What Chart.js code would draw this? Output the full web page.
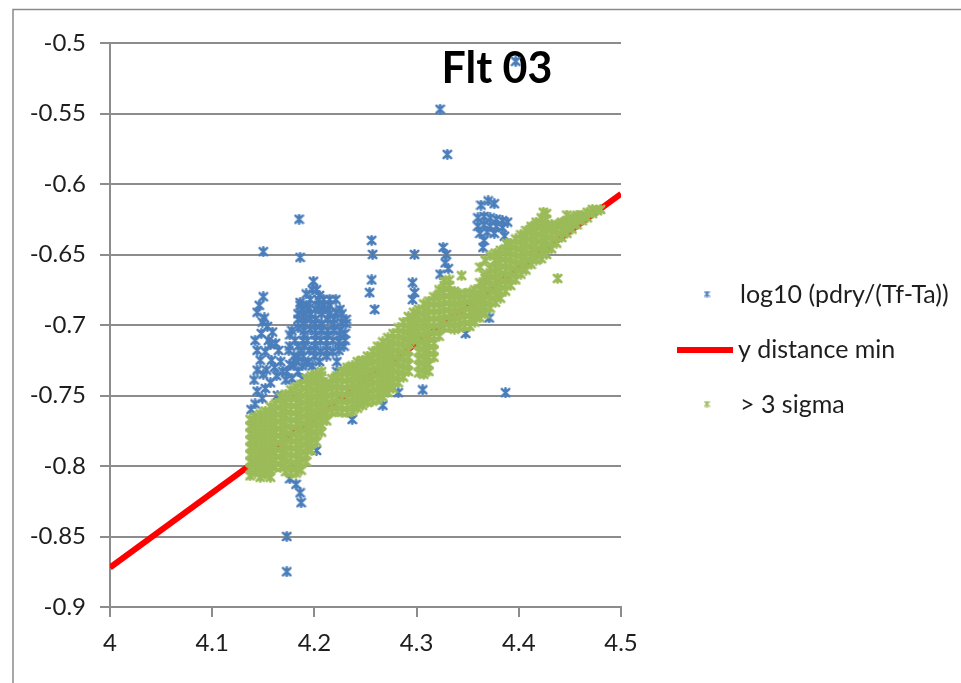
<!DOCTYPE html>
<html>
<head>
<meta charset="utf-8">
<script src="https://cdn.jsdelivr.net/npm/chart.js@4/dist/chart.umd.min.js"></script>
<style>
  html, body { margin: 0; padding: 0; background: #ffffff; }
  canvas { display: block; }
</style>
</head>
<body>
<canvas id="c" width="961" height="683"></canvas>
<script>
// Axis ticks
const xTickValues = [4, 4.1, 4.2, 4.3, 4.4, 4.5];
const yTickValues = [-0.9, -0.85, -0.8, -0.75, -0.7, -0.65, -0.6, -0.55, -0.5];

// Series names
const seriesNames = ['log10 (pdry/(Tf-Ta))', 'y distance min', '> 3 sigma'];
const chartTitle = 'Flt 03';

// Regression line end points
const fitX = [4, 4.5];
const fitY = [-0.872, -0.607];

// log10 (pdry/(Tf-Ta)) points that fall outside the 3 sigma band
const blueLeftSpike = [
  [4.150,-0.648],[4.150,-0.680],[4.146,-0.686],[4.144,-0.691],[4.151,-0.695],
  [4.154,-0.701],[4.148,-0.706],[4.155,-0.711],[4.162,-0.713],[4.165,-0.718],
  [4.152,-0.719],[4.158,-0.725],[4.161,-0.730],[4.167,-0.726],[4.163,-0.736],
  [4.157,-0.741],[4.152,-0.745],[4.144,-0.747],[4.149,-0.752],[4.142,-0.756],
  [4.138,-0.760],[4.149,-0.698],[4.157,-0.714],[4.144,-0.732],[4.150,-0.735],
  [4.144,-0.718],[4.142,-0.711],[4.159,-0.705],[4.147,-0.725],[4.169,-0.733],
  [4.153,-0.732],[4.141,-0.739],[4.164,-0.750]
];
const blueCluster = [
  [4.185,-0.625],[4.186,-0.652],[4.199,-0.669],[4.198,-0.675],[4.186,-0.684],
  [4.204,-0.682],[4.215,-0.682],[4.195,-0.688],[4.207,-0.689],[4.221,-0.691],
  [4.190,-0.694],[4.201,-0.696],[4.213,-0.696],[4.226,-0.698],[4.184,-0.702],
  [4.196,-0.703],[4.207,-0.704],[4.219,-0.704],[4.230,-0.706],[4.189,-0.711],
  [4.201,-0.711],[4.212,-0.711],[4.224,-0.712],[4.176,-0.715],[4.229,-0.715],
  [4.195,-0.718],[4.206,-0.719],[4.218,-0.719],[4.184,-0.723],[4.176,-0.728],
  [4.192,-0.727],[4.222,-0.726],[4.173,-0.733],[4.184,-0.733],[4.172,-0.739],
  [4.222,-0.733],
  [4.186,-0.686],[4.192,-0.686],[4.204,-0.686],[4.209,-0.686],[4.215,-0.686],
  [4.184,-0.692],[4.196,-0.692],[4.207,-0.692],[4.215,-0.692],[4.227,-0.692],
  [4.190,-0.699],[4.201,-0.699],[4.207,-0.699],[4.219,-0.699],[4.231,-0.699],
  [4.176,-0.707],[4.190,-0.707],[4.201,-0.707],[4.213,-0.707],[4.225,-0.707],
  [4.184,-0.715],[4.190,-0.715],[4.201,-0.715],[4.212,-0.715],[4.224,-0.715],
  [4.180,-0.722],[4.189,-0.722],[4.200,-0.722],[4.212,-0.722],
  [4.180,-0.729],[4.188,-0.729],[4.198,-0.729],[4.178,-0.738],[4.188,-0.738],
  [4.196,-0.682],[4.209,-0.682],[4.221,-0.682],
  [4.189,-0.689],[4.201,-0.689],[4.213,-0.689],[4.225,-0.689],
  [4.184,-0.696],[4.196,-0.696],[4.219,-0.696],[4.231,-0.696],
  [4.178,-0.704],[4.190,-0.704],[4.201,-0.704],[4.213,-0.704],[4.225,-0.704],
  [4.181,-0.711],[4.193,-0.711],[4.206,-0.711],[4.218,-0.711],[4.230,-0.711],
  [4.175,-0.718],[4.187,-0.718],[4.200,-0.718],[4.212,-0.718],[4.224,-0.718],
  [4.182,-0.726],[4.194,-0.726],[4.205,-0.726],
  [4.202,-0.675],[4.192,-0.678],[4.205,-0.679]
];
const blueLow = [
  [4.182,-0.813],[4.186,-0.819],[4.187,-0.826],[4.173,-0.850],[4.173,-0.875],
  [4.176,-0.809],[4.202,-0.789],[4.237,-0.767],[4.267,-0.757],[4.282,-0.748],
  [4.348,-0.706],[4.371,-0.695]
];
const blueScatter = [
  [4.256,-0.640],[4.257,-0.650],[4.256,-0.668],[4.254,-0.677],[4.259,-0.689],
  [4.298,-0.650],[4.296,-0.670],[4.298,-0.677],[4.296,-0.682],
  [4.326,-0.645],[4.329,-0.650],[4.328,-0.656],[4.331,-0.660],[4.323,-0.664],
  [4.306,-0.746],[4.387,-0.748],[4.323,-0.547],[4.330,-0.579],[4.397,-0.513]
];
const blueUpper = [
  [4.363,-0.615],[4.370,-0.612],[4.376,-0.614],[4.360,-0.624],[4.366,-0.623],
  [4.372,-0.624],[4.378,-0.625],[4.384,-0.626],[4.389,-0.627],[4.360,-0.630],
  [4.366,-0.629],[4.372,-0.630],[4.378,-0.630],[4.384,-0.631],[4.362,-0.635],
  [4.369,-0.634],[4.376,-0.635],[4.366,-0.640],[4.365,-0.645],[4.386,-0.637],
  [4.389,-0.643]
];

// > 3 sigma band, one column of y values per x
const greenColumns = [
  [4.137, [-0.807,-0.802,-0.797,-0.792,-0.787,-0.782,-0.777,-0.772,-0.767]],
  [4.142, [-0.805,-0.800,-0.795,-0.790,-0.785,-0.780,-0.775,-0.770,-0.765]],
  [4.147, [-0.808,-0.803,-0.798,-0.793,-0.788,-0.783,-0.778,-0.773,-0.768,-0.763]],
  [4.152, [-0.806,-0.801,-0.796,-0.791,-0.786,-0.781,-0.776,-0.771,-0.766,-0.761]],
  [4.157, [-0.808,-0.803,-0.798,-0.793,-0.788,-0.783,-0.778,-0.773,-0.768,-0.763,-0.758]],
  [4.162, [-0.801,-0.796,-0.791,-0.786,-0.781,-0.776,-0.771,-0.766,-0.761,-0.756]],
  [4.167, [-0.801,-0.796,-0.791,-0.786,-0.781,-0.776,-0.771,-0.766,-0.761,-0.756,-0.751]],
  [4.172, [-0.804,-0.799,-0.794,-0.789,-0.784,-0.779,-0.774,-0.769,-0.764,-0.759,-0.754,-0.749]],
  [4.177, [-0.805,-0.800,-0.795,-0.790,-0.785,-0.780,-0.775,-0.770,-0.765,-0.760,-0.755,-0.750,-0.746]],
  [4.182, [-0.805,-0.800,-0.795,-0.790,-0.785,-0.780,-0.775,-0.770,-0.765,-0.760,-0.755,-0.750,-0.744]],
  [4.187, [-0.803,-0.798,-0.793,-0.788,-0.783,-0.778,-0.773,-0.768,-0.763,-0.758,-0.753,-0.748,-0.742]],
  [4.192, [-0.797,-0.792,-0.787,-0.782,-0.777,-0.772,-0.767,-0.762,-0.757,-0.752,-0.747,-0.742,-0.738]],
  [4.197, [-0.789,-0.784,-0.779,-0.774,-0.769,-0.764,-0.759,-0.754,-0.749,-0.744,-0.739,-0.736]],
  [4.202, [-0.783,-0.778,-0.773,-0.768,-0.763,-0.758,-0.753,-0.748,-0.743,-0.738,-0.735]],
  [4.207, [-0.776,-0.771,-0.766,-0.761,-0.756,-0.751,-0.746,-0.741,-0.736,-0.733]],
  [4.212, [-0.768,-0.763,-0.758,-0.753,-0.748,-0.743,-0.741]],
  [4.217, [-0.762,-0.757,-0.752,-0.747,-0.742,-0.738]],
  [4.222, [-0.761,-0.756,-0.751,-0.746,-0.741,-0.736]],
  [4.227, [-0.762,-0.757,-0.752,-0.747,-0.742,-0.737,-0.733]],
  [4.232, [-0.762,-0.757,-0.752,-0.747,-0.742,-0.737,-0.732,-0.730]],
  [4.237, [-0.761,-0.756,-0.751,-0.746,-0.741,-0.736,-0.731,-0.729]],
  [4.242, [-0.759,-0.754,-0.749,-0.744,-0.739,-0.734,-0.729,-0.726]],
  [4.247, [-0.757,-0.752,-0.747,-0.742,-0.737,-0.732,-0.727,-0.725]],
  [4.252, [-0.755,-0.750,-0.745,-0.740,-0.735,-0.730,-0.725,-0.722]],
  [4.257, [-0.754,-0.749,-0.744,-0.739,-0.734,-0.729,-0.724,-0.719]],
  [4.262, [-0.753,-0.748,-0.743,-0.738,-0.733,-0.728,-0.723,-0.718,-0.715]],
  [4.267, [-0.751,-0.746,-0.741,-0.736,-0.731,-0.726,-0.721,-0.716,-0.712]],
  [4.272, [-0.748,-0.743,-0.738,-0.733,-0.728,-0.723,-0.718,-0.713,-0.709]],
  [4.277, [-0.745,-0.740,-0.735,-0.730,-0.725,-0.720,-0.715,-0.710,-0.706]],
  [4.282, [-0.741,-0.736,-0.731,-0.726,-0.721,-0.716,-0.711,-0.706,-0.702]],
  [4.287, [-0.737,-0.732,-0.727,-0.722,-0.717,-0.712,-0.707,-0.702,-0.698]],
  [4.292, [-0.733,-0.728,-0.723,-0.718,-0.713,-0.708,-0.703,-0.698,-0.694]],
  [4.297, [-0.711,-0.706,-0.701,-0.696,-0.691]],
  [4.302, [-0.734,-0.729,-0.724,-0.719,-0.714,-0.709,-0.704,-0.699,-0.694,-0.689]],
  [4.307, [-0.735,-0.730,-0.725,-0.720,-0.715,-0.710,-0.705,-0.700,-0.695,-0.690,-0.685]],
  [4.312, [-0.733,-0.728,-0.723,-0.718,-0.713,-0.708,-0.703,-0.698,-0.693,-0.688,-0.683]],
  [4.317, [-0.723,-0.718,-0.713,-0.708,-0.703,-0.698,-0.693,-0.688,-0.683,-0.680]],
  [4.322, [-0.708,-0.703,-0.698,-0.693,-0.688,-0.683,-0.678,-0.675]],
  [4.327, [-0.702,-0.697,-0.692,-0.687,-0.682,-0.677,-0.672,-0.669]],
  [4.332, [-0.702,-0.697,-0.692,-0.687,-0.682,-0.677,-0.672,-0.668]],
  [4.337, [-0.703,-0.698,-0.693,-0.688,-0.683,-0.678,-0.676]],
  [4.342, [-0.702,-0.697,-0.692,-0.687,-0.682,-0.678]],
  [4.347, [-0.701,-0.696,-0.691,-0.686,-0.681,-0.678]],
  [4.352, [-0.701,-0.696,-0.691,-0.686,-0.681,-0.677]],
  [4.357, [-0.698,-0.693,-0.688,-0.683,-0.678,-0.675]],
  [4.362, [-0.695,-0.690,-0.685,-0.680,-0.675,-0.670,-0.659]],
  [4.367, [-0.692,-0.687,-0.682,-0.677,-0.672,-0.667,-0.665,-0.654]],
  [4.372, [-0.688,-0.683,-0.678,-0.673,-0.668,-0.663,-0.660,-0.651]],
  [4.377, [-0.684,-0.679,-0.674,-0.669,-0.664,-0.659,-0.654,-0.649]],
  [4.382, [-0.681,-0.676,-0.671,-0.666,-0.661,-0.656,-0.651,-0.647]],
  [4.387, [-0.676,-0.671,-0.666,-0.661,-0.656,-0.651,-0.646]],
  [4.392, [-0.672,-0.667,-0.662,-0.657,-0.652,-0.647,-0.642]],
  [4.397, [-0.668,-0.663,-0.658,-0.653,-0.648,-0.643,-0.639]],
  [4.402, [-0.664,-0.659,-0.654,-0.649,-0.644,-0.639,-0.636]],
  [4.407, [-0.661,-0.656,-0.651,-0.646,-0.641,-0.636,-0.633]],
  [4.412, [-0.657,-0.652,-0.647,-0.642,-0.637,-0.632,-0.630]],
  [4.417, [-0.654,-0.649,-0.644,-0.639,-0.634,-0.629,-0.627]],
  [4.422, [-0.653,-0.648,-0.643,-0.638,-0.633,-0.628,-0.624]],
  [4.427, [-0.650,-0.645,-0.640,-0.635,-0.630,-0.625,-0.621]],
  [4.432, [-0.646,-0.641,-0.636,-0.631,-0.629]],
  [4.437, [-0.642,-0.637,-0.632,-0.629]],
  [4.442, [-0.638,-0.633,-0.628,-0.627]],
  [4.447, [-0.635,-0.630,-0.626]],
  [4.452, [-0.632,-0.627,-0.624]],
  [4.457, [-0.629,-0.624,-0.622]],
  [4.462, [-0.626,-0.622]],
  [4.467, [-0.624,-0.620]],
  [4.472, [-0.621,-0.618]],
  [4.477, [-0.619]],
  [4.480, [-0.618]]
];
const greenStray = [
  [4.344,-0.665],[4.424,-0.620],[4.438,-0.667],[4.388,-0.642],[4.447,-0.622]
];

const BLUE = '#4a7ebb';
const GREEN = '#9bbb59';
const RED = '#ff0000';
const GRID = '#8c8c8c';
const TEXT = '#1e1e1e';
const FONT = 'Lato, "Open Sans", sans-serif';

// Star marker: an x crossed by a vertical stroke
function makeMarker(color, size, lw) {
  const c = document.createElement('canvas');
  c.width = size; c.height = size;
  const g = c.getContext('2d');
  g.strokeStyle = color;
  g.lineWidth = lw;
  g.lineCap = 'round';
  const m = size / 2, a = lw / 2 + 0.5, b = size - a;
  g.beginPath();
  g.moveTo(a, a); g.lineTo(b, b);
  g.moveTo(b, a); g.lineTo(a, b);
  g.moveTo(m, a - 0.5); g.lineTo(m, b + 0.5);
  g.stroke();
  return c;
}
const blueMarker = makeMarker(BLUE, 11, 2.6);
const greenMarker = makeMarker(GREEN, 11, 2.8);

const toPts = arr => arr.map(p => ({ x: p[0], y: p[1] }));
const bluePoints = toPts([].concat(blueLeftSpike, blueCluster, blueLow, blueScatter, blueUpper));
const greenPoints = [];
greenColumns.forEach(col => col[1].forEach(y => greenPoints.push({ x: col[0], y: y })));
greenPoints.push(...toPts(greenStray));
const fitPoints = fitX.map((x, i) => ({ x: x, y: fitY[i] }));

// Outer frame of the chart panel
const framePlugin = {
  id: 'frame',
  beforeDraw(chart) {
    const ctx = chart.ctx;
    ctx.save();
    ctx.fillStyle = '#ffffff';
    ctx.fillRect(0, 0, chart.width, chart.height);
    ctx.strokeStyle = '#8a8a8a';
    ctx.lineWidth = 1.5;
    ctx.strokeRect(13, 9.5, 2000, 2000);
    ctx.restore();
  }
};

// Title sits inside the plot area
const titlePlugin = {
  id: 'innerTitle',
  beforeDatasetsDraw(chart) {
    const ctx = chart.ctx;
    ctx.save();
    ctx.font = 'bold 43px ' + FONT;
    ctx.fillStyle = '#000000';
    ctx.textAlign = 'center';
    ctx.textBaseline = 'middle';
    ctx.fillText(chartTitle, 497, 69);
    ctx.restore();
  }
};

// Legend drawn to the right of the plot
const legendPlugin = {
  id: 'sideLegend',
  afterDraw(chart) {
    const ctx = chart.ctx;
    ctx.save();
    ctx.font = '25px ' + FONT;
    ctx.fillStyle = TEXT;
    ctx.textAlign = 'left';
    ctx.textBaseline = 'middle';
    const small = 7;
    ctx.drawImage(makeMarker(BLUE, small, 1.4), 707 - small / 2, 294 - small / 2);
    ctx.fillText(seriesNames[0], 740, 295);
    ctx.strokeStyle = RED;
    ctx.lineWidth = 6;
    ctx.beginPath(); ctx.moveTo(677, 350); ctx.lineTo(733, 350); ctx.stroke();
    ctx.fillText(seriesNames[1], 738, 350);
    ctx.drawImage(makeMarker(GREEN, small, 1.4), 707 - small / 2, 404 - small / 2);
    ctx.fillText(seriesNames[2], 740, 405);
    ctx.restore();
  }
};

new Chart(document.getElementById('c'), {
  type: 'scatter',
  data: {
    datasets: [
      { label: seriesNames[0], data: bluePoints, pointStyle: blueMarker, order: 3 },
      { label: seriesNames[1], data: fitPoints, showLine: true, borderColor: RED, borderWidth: 6,
        pointRadius: 0, pointHoverRadius: 0, order: 2 },
      { label: seriesNames[2], data: greenPoints, pointStyle: greenMarker, order: 1 }
    ]
  },
  options: {
    responsive: false,
    animation: false,
    devicePixelRatio: 1,
    layout: { padding: { top: 43, right: 340, bottom: 0, left: 0 } },
    plugins: { legend: { display: false }, tooltip: { enabled: false }, title: { display: false } },
    scales: {
      x: {
        type: 'linear', min: 4, max: 4.5,
        afterBuildTicks: s => { s.ticks = xTickValues.map(v => ({ value: v })); },
        afterFit: s => { s.height = 76; },
        ticks: { color: TEXT, font: { family: FONT, size: 24 }, padding: 12, maxRotation: 0,
                 callback: v => String(v) },
        grid: { drawOnChartArea: false, drawTicks: true, tickLength: 10, color: GRID, lineWidth: 2 },
        border: { display: true, color: GRID, width: 2 }
      },
      y: {
        type: 'linear', min: -0.9, max: -0.5,
        afterBuildTicks: s => { s.ticks = yTickValues.map(v => ({ value: v })); },
        afterFit: s => { s.width = 110; },
        ticks: { color: TEXT, font: { family: FONT, size: 24 }, padding: 14,
                 callback: v => String(v) },
        grid: { drawTicks: true, tickLength: 10, color: GRID, lineWidth: 2 },
        border: { display: true, color: GRID, width: 2 }
      }
    }
  },
  plugins: [framePlugin, titlePlugin, legendPlugin]
});
</script>
</body>
</html>
